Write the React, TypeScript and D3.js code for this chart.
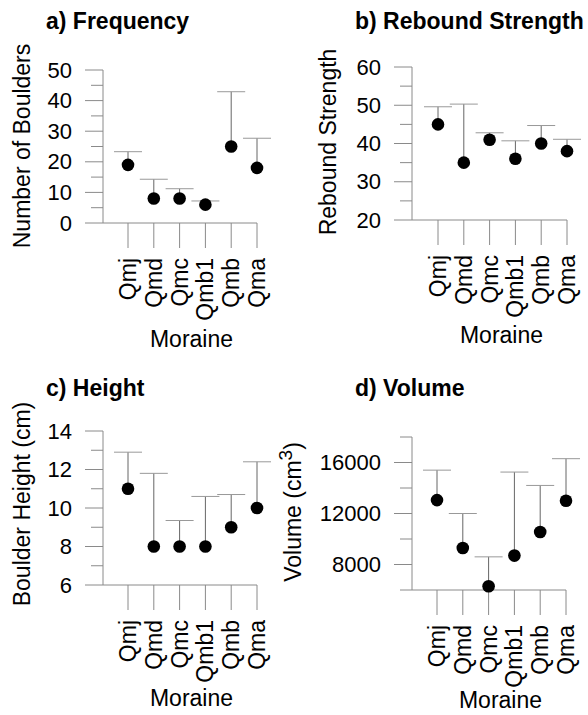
import React from "react";
import * as d3 from "d3";

const MORAINES = ["Qmj", "Qmd", "Qmc", "Qmb1", "Qmb", "Qma"];

// a) frequency
const FREQ_MEAN = [19, 8, 8, 6, 25, 18];
const FREQ_UPPER = [23.3, 14.3, 11.2, 7.2, 42.9, 27.7];
const FREQ_TICKS = [0, 10, 20, 30, 40, 50];

// b) rebound strength
const REB_MEAN = [45, 35, 41, 36, 40, 38];
const REB_UPPER = [49.6, 50.3, 42.8, 40.7, 44.7, 41.1];
const REB_TICKS = [20, 30, 40, 50, 60];

// c) height
const HEIGHT_MEAN = [11, 8, 8, 8, 9, 10];
const HEIGHT_UPPER = [12.9, 11.8, 9.35, 10.6, 10.7, 12.4];
const HEIGHT_TICKS = [6, 8, 10, 12, 14];

// d) volume
const VOL_MEAN = [13050, 9300, 6300, 8700, 10550, 13000];
const VOL_UPPER = [15400, 12000, 8600, 15250, 14200, 16300];
const VOL_TICKS = [8000, 12000, 16000];

const FONT = "'Liberation Sans', Arial, Helvetica, sans-serif";
const AXIS_GREY = "#8a8a8a";

type PanelProps = {
  title: string;
  yTitle: React.ReactNode;
  yTitleX: number;
  yTitleY: number;
  mean: number[];
  upper: number[];
  domain: [number, number];
  ticks: number[];
  minorStep: number;
  left: number; // y axis position
  top: number;
  bottom: number;
  firstX: number;
  lastX: number;
  titleY: number;
  moraineY: number;
};

function Panel(p: PanelProps) {
  const x = d3.scalePoint<string>().domain(MORAINES).range([p.firstX, p.lastX]);
  const y = d3.scaleLinear().domain(p.domain).range([p.bottom, p.top]);
  const minor = d3.range(p.domain[0], p.domain[1] + p.minorStep / 2, p.minorStep).filter((v) => !p.ticks.includes(v));
  const labelEnd = p.bottom + 35;
  const cx = (p.firstX + p.lastX) / 2;

  return (
    <g fontFamily={FONT}>
      <text x={p.left - 57} y={p.titleY} fontSize={23} fontWeight="bold">
        {p.title}
      </text>

      {/* y axis */}
      <line x1={p.left} x2={p.left} y1={p.top} y2={p.bottom} stroke={AXIS_GREY} />
      {minor.map((v) => (
        <line key={"m" + v} x1={p.left - 12} x2={p.left} y1={y(v)} y2={y(v)} stroke={AXIS_GREY} />
      ))}
      {p.ticks.map((v) => (
        <g key={"t" + v}>
          <line x1={p.left - 18} x2={p.left} y1={y(v)} y2={y(v)} stroke={AXIS_GREY} />
          <text x={p.left - 31} y={y(v)} fontSize={22} textAnchor="end" dominantBaseline="central">
            {v}
          </text>
        </g>
      ))}
      <text
        transform={`translate(${p.yTitleX},${p.yTitleY}) rotate(-90)`}
        fontSize={23}
        textAnchor="middle"
        dominantBaseline="central"
      >
        {p.yTitle}
      </text>

      {/* x axis */}
      <line x1={p.left} x2={p.lastX} y1={p.bottom} y2={p.bottom} stroke={AXIS_GREY} />
      {MORAINES.map((m) => (
        <g key={m}>
          <line x1={x(m)} x2={x(m)} y1={p.bottom} y2={p.bottom + 25} stroke={AXIS_GREY} />
          <text
            transform={`translate(${x(m)},${labelEnd}) rotate(-90)`}
            fontSize={23}
            textAnchor="end"
            dominantBaseline="central"
          >
            {m}
          </text>
        </g>
      ))}
      <text x={cx - 1} y={p.moraineY} fontSize={23} textAnchor="middle">
        Moraine
      </text>

      {/* error bars and means */}
      {MORAINES.map((m, i) => (
        <g key={"e" + m}>
          <line x1={x(m)} x2={x(m)} y1={y(p.mean[i])} y2={y(p.upper[i])} stroke="#666" />
          <line x1={x(m)! - 14} x2={x(m)! + 14} y1={y(p.upper[i])} y2={y(p.upper[i])} stroke="#999" />
          <circle cx={x(m)} cy={y(p.mean[i])} r={6.3} fill="#000" />
        </g>
      ))}
    </g>
  );
}

export default function App() {
  return (
    <svg
      width={588}
      height={715}
      style={{ position: "absolute", left: 0, top: 0, background: "#fff" }}
    >
      <Panel
        title="a) Frequency"
        yTitle="Number of Boulders"
        yTitleX={22}
        yTitleY={146}
        mean={FREQ_MEAN}
        upper={FREQ_UPPER}
        domain={[0, 50]}
        ticks={FREQ_TICKS}
        minorStep={5}
        left={103}
        top={70}
        bottom={223}
        firstX={128}
        lastX={257}
        titleY={29}
        moraineY={347}
      />
      <Panel
        title="b) Rebound Strength"
        yTitle="Rebound Strength"
        yTitleX={328}
        yTitleY={142}
        mean={REB_MEAN}
        upper={REB_UPPER}
        domain={[20, 60]}
        ticks={REB_TICKS}
        minorStep={5}
        left={412}
        top={67}
        bottom={220}
        firstX={438}
        lastX={567}
        titleY={29}
        moraineY={343}
      />
      <Panel
        title="c) Height"
        yTitle="Boulder Height (cm)"
        yTitleX={22}
        yTitleY={504}
        mean={HEIGHT_MEAN}
        upper={HEIGHT_UPPER}
        domain={[6, 14]}
        ticks={HEIGHT_TICKS}
        minorStep={1}
        left={103}
        top={431}
        bottom={585}
        firstX={128}
        lastX={257}
        titleY={396}
        moraineY={706}
      />
      <Panel
        title="d) Volume"
        yTitle={
          <>
            Volume (cm
            <tspan dy={-8} fontSize={19}>
              3
            </tspan>
            <tspan dy={8}>)</tspan>
          </>
        }
        yTitleX={293}
        yTitleY={512}
        mean={VOL_MEAN}
        upper={VOL_UPPER}
        domain={[6000, 18000]}
        ticks={VOL_TICKS}
        minorStep={2000}
        left={412}
        top={437}
        bottom={590}
        firstX={437}
        lastX={566}
        titleY={396}
        moraineY={708}
      />
    </svg>
  );
}
